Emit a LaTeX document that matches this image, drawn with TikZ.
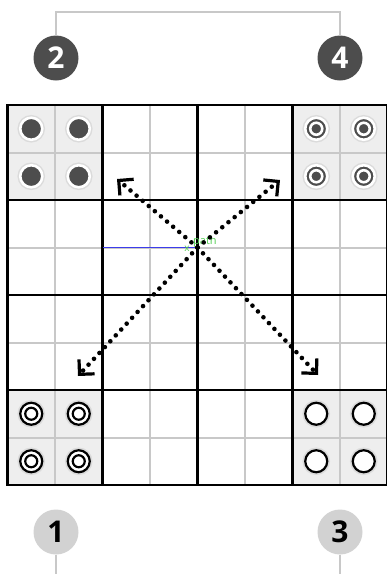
\documentclass[tikz,border=0pt]{standalone}
\usepackage{fontspec}
\setsansfont{Open Sans}
\usepackage{xcolor}
\usetikzlibrary{arrows.meta, positioning, calc}
\definecolor{boardgray}{RGB}{238, 238, 238}
\definecolor{gridgray}{RGB}{200, 200, 200}
\definecolor{piecedark}{RGB}{77, 77, 77}
\definecolor{badgelight}{RGB}{210, 210, 210}
\definecolor{tagGreen}{RGB}{80, 205, 80}
\definecolor{guideBlue}{RGB}{60, 60, 235}

\begin{document}
\begin{tikzpicture}[
  x=1pt, y=-1pt,
  badge/.style={circle, minimum size=45pt, inner sep=0pt,
                font=\sffamily\bfseries\fontsize{30}{30}\selectfont},
  darkbadge/.style={badge, fill=piecedark, text=white},
  lightbadge/.style={badge, fill=badgelight, text=black},
  link/.style={draw=gridgray, line width=2pt},
  gridline/.style={draw=gridgray, line width=2pt},
  boardline/.style={draw=black, line width=2.2pt},
  piece/.style={circle, minimum size=22pt, inner sep=0pt, preaction={draw=black!14, line width=5.5pt}},
  darkpiece/.style={piece, fill=piecedark, draw=white, line width=2.6pt},
  lightpiece/.style={piece, fill=white, draw=black, line width=2.2pt},
  move/.style={line width=4.6pt, dash pattern=on 0pt off 8pt, line cap=round,
               -{Straight Barb[angle=90:15pt, line width=3.2pt]}}
]
\useasboundingbox (0,0) rectangle (387,574);

% shaded corners
\foreach \cx/\cy in {0/0, 6/0, 0/6, 6/6}
  \fill[boardgray] (7.5+47.5*\cx, 105+47.5*\cy) rectangle ++(95,95);

% grid
\foreach \i in {1,3,5,7} {
  \draw[gridline] (7.5+47.5*\i, 105) -- ++(0,380);
  \draw[gridline] (7.5, 105+47.5*\i) -- ++(380,0);
}
\foreach \i in {2,4,6} {
  \draw[boardline] (7.5+47.5*\i, 105) -- ++(0,380);
  \draw[boardline] (7.5, 105+47.5*\i) -- ++(380,0);
}
\draw[boardline] (7.5,105) rectangle (387.5,485);

% pieces
\foreach \c in {0,1} \foreach \r in {0,1} {
  \node[darkpiece] (tl-\c-\r) at (31.25+47.5*\c, 128.75+47.5*\r) {};
  \node[darkpiece] (tr-\c-\r) at (316.25+47.5*\c, 128.75+47.5*\r) {};
  \draw[white, line width=2.6pt] (tr-\c-\r.center) circle (6pt);
  \node[lightpiece] (bl-\c-\r) at (31.25+47.5*\c, 413.75+47.5*\r) {};
  \draw[black, line width=2.2pt] (bl-\c-\r.center) circle (6pt);
  \node[lightpiece] (br-\c-\r) at (316.25+47.5*\c, 413.75+47.5*\r) {};
}

% moves
\coordinate (mid) at (197.5,247.5);
\coordinate (guide) at (103,247.5);
\draw[guideBlue, line width=0.8pt] (guide) -- (mid);
\node[tagGreen, font=\sffamily\fontsize{11}{11}\selectfont, anchor=base west, inner sep=0pt] (tag) at (193,244) {path};
\node[tagGreen, font=\sffamily\fontsize{10}{10}\selectfont, inner sep=0pt] (mark) at (187,249) {x};
\coordinate (ul) at (117,179);
\coordinate (ur) at (280,180);
\coordinate (ll) at (78,376);
\coordinate (lr) at (318,375);
\draw[move] (mid) -- (ul);
\draw[move] (mid) -- (ur);
\draw[move] (mid) -- (ll);
\draw[move] (mid) -- (lr);

% badges
\node[darkbadge] (n2) at (56,58) {2};
\node[darkbadge] (n4) at (340,58) {4};
\node[lightbadge] (n1) at (56,532) {1};
\node[lightbadge] (n3) at (340,532) {3};
\coordinate (topbar) at (198,12);
\coordinate (foot1) at (56,576);
\coordinate (foot3) at (340,576);
\draw[link] (n2.north) |- (topbar) -| (n4.north);
\draw[link] (n1.south) -- (foot1);
\draw[link] (n3.south) -- (foot3);
\end{tikzpicture}
\end{document}
